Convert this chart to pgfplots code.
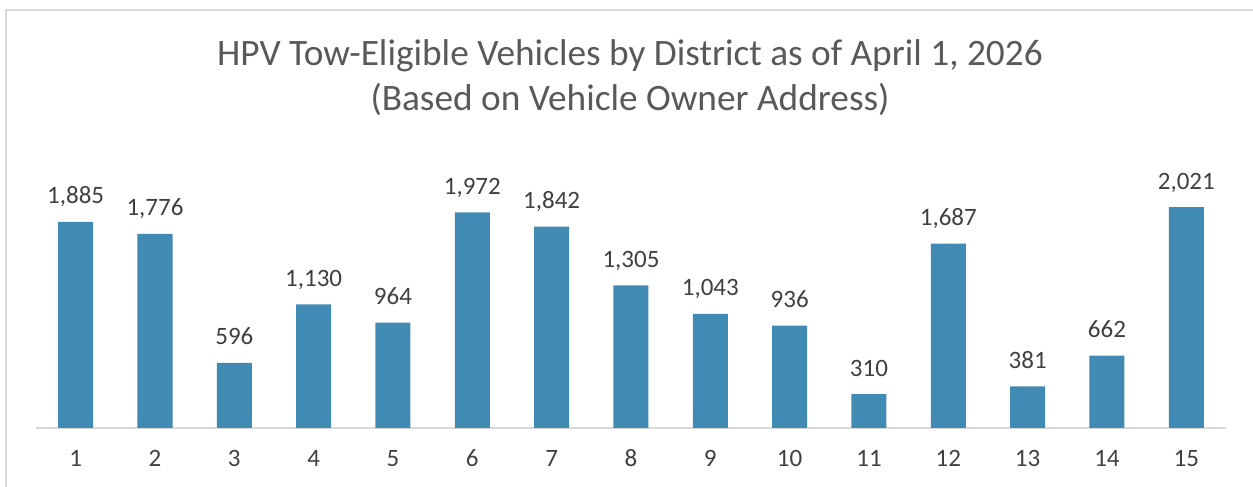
\documentclass[border=0pt]{standalone}
\usepackage{pgfplots}
\pgfplotsset{compat=1.18}
\usepackage{fontspec}
\setmainfont{Carlito}
\definecolor{barblue}{RGB}{65,138,179}
\definecolor{framegray}{RGB}{217,217,217}
\definecolor{titlegray}{RGB}{89,89,89}
\definecolor{labelgray}{RGB}{64,64,64}
\begin{document}
\begin{tikzpicture}
\path[use as bounding box] (0,0) rectangle (1253pt,487pt);
\draw[framegray, line width=1.5pt] (6pt,-5pt) -- (6pt,477pt) -- (1260pt,477pt);
\node[anchor=base, text=titlegray, font=\fontsize{37.3}{42}\selectfont] at (630pt,421pt) {HPV Tow-Eligible Vehicles by District as of April 1, 2026};
\node[anchor=base, text=titlegray, font=\fontsize{37.3}{42}\selectfont] at (630pt,376pt) {(Based on Vehicle Owner Address)};
\begin{axis}[
  at={(36pt,59pt)}, anchor=south west,
  scale only axis, width=1190pt, height=273.3pt,
  xmin=0.5, xmax=15.5, ymin=0, ymax=2500,
  axis y line=none, axis x line*=bottom,
  x axis line style={framegray, line width=1.2pt, -},
  xtick={1,...,15}, major tick length=0pt,
  xticklabel style={anchor=base, yshift=-39pt, text=labelgray, font=\fontsize{25}{28}\selectfont},
  ybar, bar width=35pt,
  /pgf/number format/.cd, 1000 sep={,}, assume math mode=true, /pgfplots/.cd,
  nodes near coords,
  nodes near coords style={anchor=base, yshift=18pt, text=labelgray, font=\fontsize{25}{28}\selectfont},
  clip=false,
]
\addplot[fill=barblue, draw=none] coordinates {
(1,1885) (2,1776) (3,596) (4,1130) (5,964) (6,1972) (7,1842) (8,1305)
(9,1043) (10,936) (11,310) (12,1687) (13,381) (14,662) (15,2021)};
\end{axis}
\end{tikzpicture}
\end{document}
